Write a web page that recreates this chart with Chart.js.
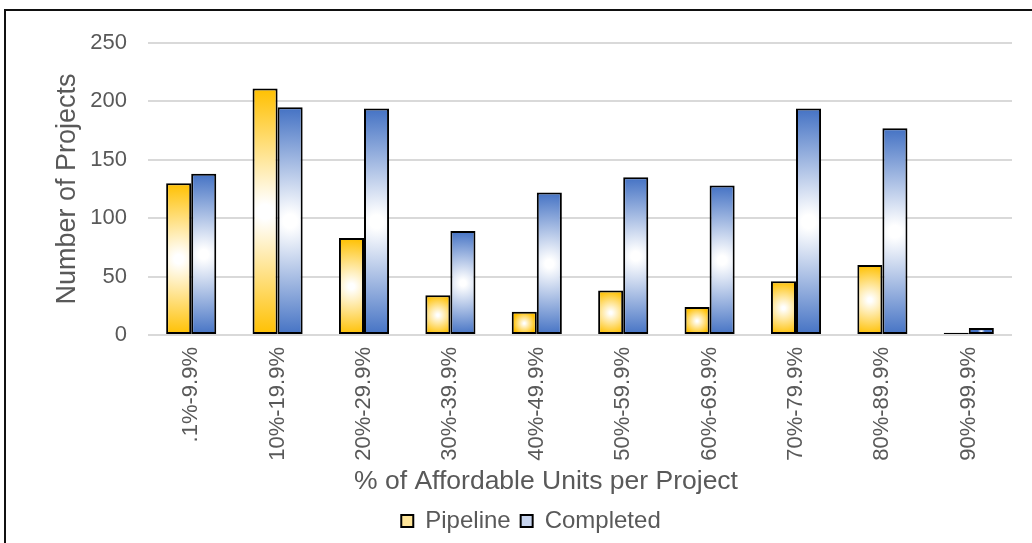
<!DOCTYPE html>
<html>
<head>
<meta charset="utf-8">
<script src="https://cdn.jsdelivr.net/npm/chart.js@4"></script>
<style>
  html, body { margin: 0; padding: 0; background: #fff; overflow: hidden; }
  #wrap { width: 1032px; height: 543px; }
</style>
</head>
<body>
<div id="wrap"><canvas id="grafico" width="1032" height="543"></canvas></div>
<script>
// Fasce di alloggi accessibili per progetto
const categorie = ['.1%-9.9%', '10%-19.9%', '20%-29.9%', '30%-39.9%', '40%-49.9%',
                   '50%-59.9%', '60%-69.9%', '70%-79.9%', '80%-89.9%', '90%-99.9%'];
const pipeline = [130, 211, 83, 34, 20, 38, 24, 46, 60, 2];
const completati = [138, 195, 194, 89, 122, 135, 128, 194, 177, 6];
const tickY = [0, 50, 100, 150, 200, 250];
const titoloX = '% of Affordable Units per Project';

const GRIGIO = '#595959';
const FONT = "'Liberation Sans', Arial, sans-serif";
const PERC_CAT = 0.58;

// Sfumatura bianca al centro di ogni barra, colore pieno verso i bordi
function riempimento(colore) {
    return function (c) {
        const chart = c.chart;
        const sx = chart.scales.x, sy = chart.scales.y;
        if (!sx || !sy || c.dataIndex === undefined) return colore;
        const alto = sy.getPixelForValue(c.raw);
        const base = sy.getPixelForValue(0);
        const larg = (sx.width / categorie.length) * PERC_CAT / 2;
        const cx = sx.getPixelForValue(c.dataIndex) + (c.datasetIndex === 0 ? -larg / 2 : larg / 2);
        const cy = (alto + base) / 2;
        const r = Math.max(Math.abs(base - alto) / 2, 1);
        const g = chart.ctx.createRadialGradient(cx, cy, 0, cx, cy, r);
        g.addColorStop(0, '#ffffff');
        g.addColorStop(0.06, '#ffffff');
        g.addColorStop(1, colore);
        return g;
    };
}

// Cornice esterna e titolo dell'asse X
const extra = {
    id: 'extra',
    afterDraw(chart) {
        const ctx = chart.ctx;
        ctx.save();
        ctx.fillStyle = GRIGIO;
        ctx.font = "26.5px " + FONT;
        ctx.textAlign = 'center';
        ctx.textBaseline = 'middle';
        ctx.fillText(titoloX, 546, 482);
        ctx.strokeStyle = '#111111';
        ctx.lineWidth = 2;
        ctx.strokeRect(5, 10, 2000, 2000);
        ctx.restore();
    }
};

new Chart(document.getElementById('grafico'), {
    type: 'bar',
    data: {
        labels: categorie,
        datasets: [{
            label: 'Pipeline',
            data: pipeline,
            backgroundColor: riempimento('#FFC000'),
            borderColor: '#000000',
            borderWidth: 2,
            borderSkipped: false
        }, {
            label: 'Completed',
            data: completati,
            backgroundColor: riempimento('#4472C4'),
            borderColor: '#000000',
            borderWidth: 2,
            borderSkipped: false
        }]
    },
    options: {
        responsive: false,
        animation: false,
        barPercentage: 1,
        categoryPercentage: PERC_CAT,
        layout: { padding: { top: 43, right: 20, bottom: 0, left: 50 } },
        plugins: {
            tooltip: { enabled: false },
            legend: {
                position: 'bottom',
                labels: {
                    color: GRIGIO,
                    font: { family: FONT, size: 24 },
                    boxWidth: 12,
                    boxHeight: 12,
                    padding: 10,
                    generateLabels(chart) {
                        const pallidi = ['#FFE69A', '#C7D4EE'];
                        return chart.data.datasets.map((d, i) => ({
                            text: d.label,
                            fillStyle: pallidi[i],
                            strokeStyle: '#000000',
                            lineWidth: 2,
                            fontColor: GRIGIO,
                            datasetIndex: i
                        }));
                    }
                }
            }
        },
        scales: {
            x: {
                grid: { display: false, drawTicks: false },
                border: { display: false },
                ticks: {
                    color: GRIGIO,
                    font: { family: FONT, size: 22 },
                    autoSkip: false,
                    maxRotation: 90,
                    minRotation: 90,
                    padding: 12
                },
                afterFit(scala) { scala.height = 164; }
            },
            y: {
                min: 0,
                max: 250,
                afterBuildTicks(scala) { scala.ticks = tickY.map(v => ({ value: v })); },
                grid: { color: '#d9d9d9', lineWidth: 2, drawTicks: false },
                border: { display: false },
                ticks: {
                    color: GRIGIO,
                    font: { family: FONT, size: 22 },
                    padding: 21
                },
                title: {
                    display: true,
                    text: 'Number of Projects',
                    color: GRIGIO,
                    font: { family: FONT, size: 27 },
                    padding: { top: 1, bottom: 0 }
                },
                afterFit(scala) { scala.width = 98; }
            }
        }
    },
    plugins: [extra]
});
</script>
</body>
</html>
